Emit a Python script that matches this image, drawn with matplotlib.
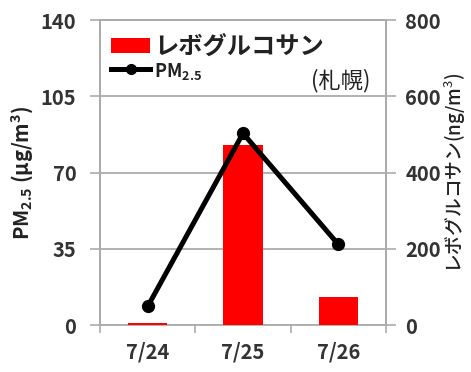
import matplotlib
matplotlib.use("Agg")
import matplotlib.pyplot as plt
from matplotlib.patches import Patch
from matplotlib.lines import Line2D

plt.rcParams['font.family'] = ['Noto Sans CJK JP', 'DejaVu Sans']
plt.rcParams['mathtext.fontset'] = 'custom'
plt.rcParams['mathtext.rm'] = 'Noto Sans CJK JP'
plt.rcParams['mathtext.it'] = 'Noto Sans CJK JP'
plt.rcParams['mathtext.bf'] = 'Noto Sans CJK JP:bold'

dates = ['7/24', '7/25', '7/26']
pm25 = [8.5, 88, 37]              # µg/m3, left axis
levoglucosan = [6, 472, 74]       # ng/m3, right axis
pm_ticks = [0, 35, 70, 105, 140]
lev_ticks = [0, 200, 400, 600, 800]

fig = plt.figure(figsize=(4.71, 3.72), dpi=100)
ax = fig.add_axes([0.2123, 0.1263, 0.6072, 0.8199])
ax2 = ax.twinx()

# bars + grid live on the rear axis, the PM line sits on top
ax.set_zorder(ax2.get_zorder() + 1)
ax.patch.set_visible(False)

x = list(range(len(dates)))
ax2.bar(x, levoglucosan, width=0.41, color='#ff0000', zorder=3)
ax2.set_ylim(0, 800)
ax2.set_yticks(lev_ticks)
ax2.yaxis.grid(True, color='#ababab', linewidth=1.3, zorder=0)
ax2.set_axisbelow(True)

ax.plot(x, pm25, color='black', linewidth=3.6, marker='o', markersize=8.5,
        solid_capstyle='round')
ax.set_ylim(0, 140)
ax.set_yticks(pm_ticks)
ax.set_xlim(-0.5, 2.5)
ax.set_xticks(x)
ax.set_xticklabels(dates)
ax.set_xticks([-0.5, 0.5, 1.5, 2.5], minor=True)
ax.tick_params(axis='x', which='major', length=0, pad=12)
ax.tick_params(axis='x', which='minor', length=6, color='#ababab', width=1.2)
ax.tick_params(axis='y', pad=10)
ax2.tick_params(axis='y', pad=7)

for a in (ax, ax2):
    for s in a.spines.values():
        s.set_color('#ababab')
        s.set_linewidth(1.3)
    a.tick_params(axis='y', length=7, color='#ababab', width=1.2)
    for lbl in a.get_yticklabels() + a.get_xticklabels():
        lbl.set_fontsize(14.5)
        lbl.set_fontweight('bold')
        lbl.set_color('#333333')
# let the tiny 7/24 bar show above the baseline
ax.spines['bottom'].set_visible(False)

ax.set_ylabel(r'PM$_{\mathbf{2.5}}$ (μg/m$^{\mathbf{3}}$)', fontsize=14.5,
              fontweight='bold', color='#222222', labelpad=4)
ax2.set_ylabel(r'レボグルコサン(ng/m$^{3}$)', fontsize=13.5,
               fontweight='medium', color='#222222', labelpad=1)

handles = [Patch(facecolor='#ff0000'),
           Line2D([], [], color='black', linewidth=3.6, marker='o', markersize=7)]
leg = ax.legend(handles, ['レボグルコサン', r'PM$_{\mathbf{2.5}}$'], loc='upper left',
                bbox_to_anchor=(0.04, 0.95), frameon=False,
                prop={'size': 17.5, 'weight': 'bold'},
                handlelength=1.6, handleheight=0.6, handletextpad=0.15,
                labelspacing=0.05, borderaxespad=0.0, borderpad=0.0)
leg.get_texts()[0].set_color('#222222')
leg.get_texts()[1].set_fontsize(13)
leg.get_texts()[1].set_color('#222222')

ax.text(0.84, 0.80, '(札幌)', transform=ax.transAxes, ha='center', va='center',
        fontsize=16, color='#222222')

fig.savefig('out.png', dpi=100)
